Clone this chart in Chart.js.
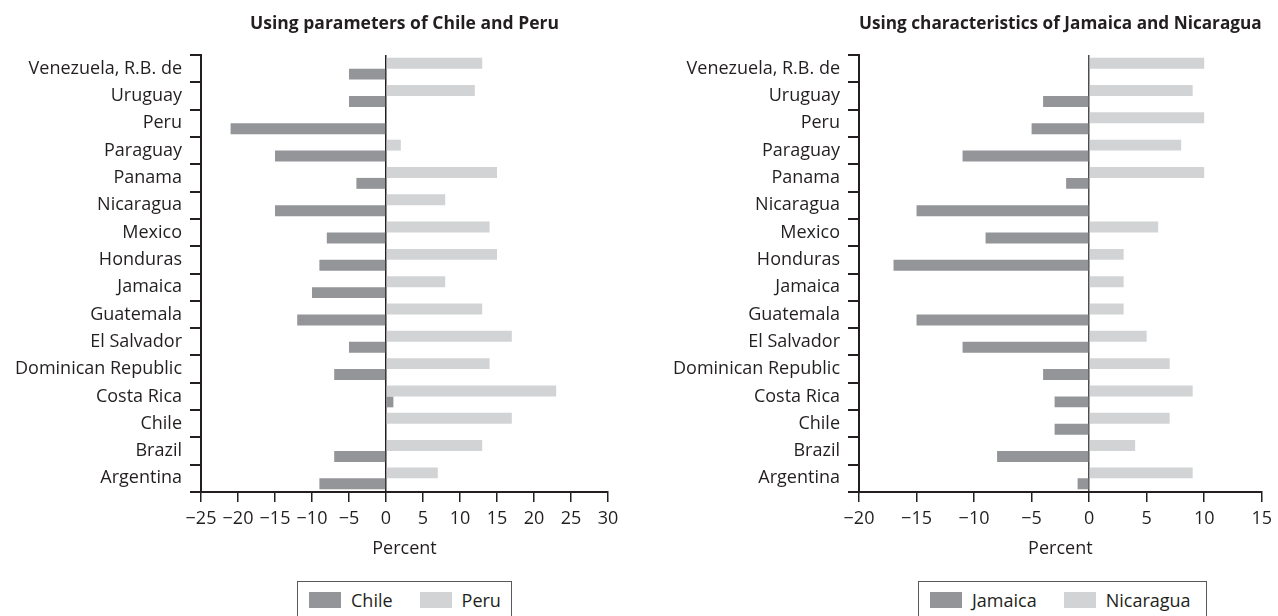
<!DOCTYPE html>
<html>
<head>
<meta charset="utf-8">
<script src="https://cdn.jsdelivr.net/npm/chart.js@4.4.1/dist/chart.umd.min.js"></script>
<style>
  body { margin: 0; background: #fff; width: 1278px; height: 616px; overflow: hidden; position: relative;
         font-family: 'Open Sans', sans-serif; color: #231f20; }
  .wrap { position: absolute; top: 0; height: 564px; }
  .legend { position: absolute; top: 581px; height: 40px; box-sizing: border-box; border: 1px solid #58595b;
            display: flex; align-items: center; padding-left: 11px; font-size: 18px; padding-bottom: 2px; }
  .sw { width: 32px; height: 16px; margin-right: 10px; flex-shrink: 0; }
  .lab { margin-right: 27px; flex-shrink: 0; white-space: nowrap; }
  .lab:last-child { margin-right: 0; }
</style>
</head>
<body>
<div class="wrap" style="left:0;width:640px"><canvas id="left"></canvas></div>
<div class="wrap" style="left:640px;width:638px"><canvas id="right"></canvas></div>

<div class="legend" style="left:297px;width:215px">
  <div class="sw" style="background:#939598"></div><span class="lab">Chile</span>
  <div class="sw" style="background:#d1d3d4"></div><span class="lab">Peru</span>
</div>
<div class="legend" style="left:918px;width:289px">
  <div class="sw" style="background:#939598"></div><span class="lab">Jamaica</span>
  <div class="sw" style="background:#d1d3d4"></div><span class="lab">Nicaragua</span>
</div>

<script>
// categories, top to bottom
const countries = [
  'Venezuela, R.B. de', 'Uruguay', 'Peru', 'Paraguay', 'Panama', 'Nicaragua', 'Mexico', 'Honduras',
  'Jamaica', 'Guatemala', 'El Salvador', 'Dominican Republic', 'Costa Rica', 'Chile', 'Brazil', 'Argentina'
];

// left panel: parameters of Chile and Peru
const chile = [-5, -5, -21, -15, -4, -15, -8, -9, -10, -12, -5, -7, 1, 0, -7, -9];
const peru = [13, 12, 0, 2, 15, 8, 14, 15, 8, 13, 17, 14, 23, 17, 13, 7];

// right panel: characteristics of Jamaica and Nicaragua
const jamaica = [0, -4, -5, -11, -2, -15, -9, -17, 0, -15, -11, -4, -3, -3, -8, -1];
const nicaragua = [10, 9, 10, 8, 10, 0, 6, 3, 3, 3, 5, 7, 9, 7, 4, 9];

const leftTicks = [-25, -20, -15, -10, -5, 0, 5, 10, 15, 20, 25, 30];
const rightTicks = [-20, -15, -10, -5, 0, 5, 10, 15];

const ink = '#231f20';
const dark = '#939598';
const light = '#d1d3d4';

Chart.defaults.font.family = "'Open Sans', sans-serif";
Chart.defaults.font.size = 18;
Chart.defaults.color = ink;

function makeChart(id, title, darkName, darkData, lightName, lightData, ticks, yWidth, rightPad, zeroColor) {
  return new Chart(document.getElementById(id), {
    type: 'bar',
    data: {
      labels: countries,
      datasets: [
        // light series first so it sits above the dark bar in each row
        { label: lightName, data: lightData, backgroundColor: light },
        { label: darkName, data: darkData, backgroundColor: dark },
      ],
    },
    options: {
      indexAxis: 'y',
      responsive: true,
      maintainAspectRatio: false,
      animation: false,
      categoryPercentage: 0.8,
      barPercentage: 1.0,
      layout: { padding: { left: 0, right: rightPad, top: 14, bottom: 0 } },
      plugins: {
        legend: { display: false },
        tooltip: { enabled: false },
        title: {
          display: true,
          text: title,
          fullSize: false,
          color: ink,
          font: { size: 17.5, weight: 'bold' },
          padding: { top: 0, bottom: 20 },
        },
      },
      scales: {
        x: {
          min: ticks[0],
          max: ticks[ticks.length - 1],
          afterBuildTicks: s => { s.ticks = ticks.map(v => ({ value: v })); },
          afterFit: s => { s.height = 72; },
          border: { display: true, color: ink, width: 2 },
          grid: {
            drawOnChartArea: true,
            color: c => (c.tick && c.tick.value === 0 ? zeroColor : 'rgba(0,0,0,0)'),
            tickColor: ink,
            lineWidth: 1.5,
            tickLength: 10,
          },
          ticks: {
            padding: 6,
            maxRotation: 0,
            autoSkip: false,
            callback: v => (v < 0 ? '\u2212' + Math.abs(v) : String(v)),
          },
          title: { display: true, text: 'Percent', color: ink, padding: { top: 4, bottom: 4 } },
        },
        y: {
          afterFit: s => { s.width = yWidth; },
          border: { display: true, color: ink, width: 2 },
          grid: { drawOnChartArea: false, tickColor: ink, lineWidth: 2, tickLength: 11, offset: true },
          ticks: { padding: 8, autoSkip: false },
        },
      },
    },
  });
}

makeChart('left', 'Using parameters of Chile and Peru', 'Chile', chile, 'Peru', peru, leftTicks, 201, 32, ink);
makeChart('right', 'Using characteristics of Jamaica and Nicaragua', 'Jamaica', jamaica, 'Nicaragua', nicaragua,
  rightTicks, 219, 12, '#4d4d4f');
</script>
</body>
</html>
